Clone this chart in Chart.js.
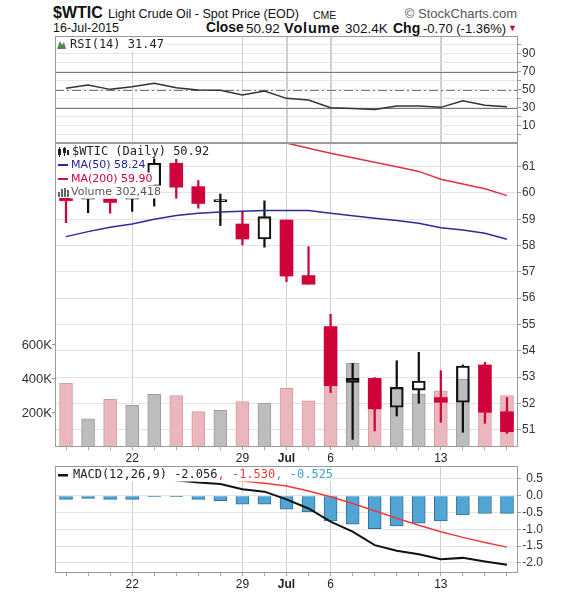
<!DOCTYPE html>
<html>
<head>
<meta charset="utf-8">
<script src="https://cdn.jsdelivr.net/npm/chart.js@4.4.1/dist/chart.umd.min.js"></script>
<style>
  body { margin: 0; background: #fff; width: 564px; height: 592px; overflow: hidden; position: relative;
         font-family: "Liberation Sans", Arial, sans-serif; }
  .t { position: absolute; white-space: nowrap; line-height: 1; color: #111; }
  .b { font-weight: bold; }
  canvas { position: absolute; left: 0; }
</style>
</head>
<body>
<div class="t b" style="left:53px;top:5px;font-size:16px">$WTIC</div>
<div class="t" style="left:108px;top:8px;font-size:12.5px">Light Crude Oil - Spot Price (EOD)</div>
<div class="t" style="left:313px;top:10px;font-size:10.5px">CME</div>
<div class="t" style="right:47px;top:7px;font-size:13px;color:#555">© StockCharts.com</div>
<div class="t" style="left:53px;top:22px;font-size:12.5px">16-Jul-2015</div>
<div class="t b" style="left:206px;top:21px;font-size:13.8px">Close</div>
<div class="t" style="left:246px;top:22px;font-size:13.5px">50.92</div>
<div class="t b" style="left:284px;top:21px;font-size:14.5px;letter-spacing:0.8px">Volume</div>
<div class="t" style="left:345px;top:22px;font-size:13.5px">302.4K</div>
<div class="t b" style="left:393px;top:21px;font-size:14px">Chg</div>
<div class="t" style="left:423px;top:22px;font-size:13px">-0.70 (-1.36%)</div>
<div class="t" style="left:508px;top:24px;font-size:9px;color:#cc0033">▼</div>

<canvas id="price" width="564" height="330" style="top:138px"></canvas>
<canvas id="macd" width="564" height="132" style="top:460px"></canvas>
<canvas id="rsi" width="564" height="113" style="top:30px"></canvas>

<script>
// ── Datos (17-jun a 16-jul-2015) ──
const DAYS = ['17','18','19','22','23','24','25','26','29','30','Jul','2','6','7','8','9','10','13','14','15','16'];
const TICK_DAYS = ['22','29','Jul','6','13'];

const OPEN  = [59.80, 59.76, 59.77, 59.76, 60.24, 61.13, 60.24, 59.67, 58.82, 58.25, 58.97, 56.86, 54.92, 52.80, 52.95, 51.85, 52.50, 52.22, 52.04, 53.46, 51.68];
const HIGH  = [59.80, 59.76, 59.77, 59.76, 61.32, 61.28, 60.47, 59.96, 59.29, 59.70, 58.97, 57.96, 55.39, 53.52, 52.98, 53.62, 53.94, 53.24, 53.46, 53.56, 52.22];
const LOW   = [58.87, 59.25, 59.23, 59.30, 59.50, 59.80, 59.42, 58.76, 58.02, 57.94, 56.63, 56.53, 52.41, 50.63, 50.95, 51.52, 52.00, 51.28, 50.90, 51.24, 50.86];
const CLOSE = [59.71, 59.76, 59.64, 59.76, 61.13, 60.22, 59.60, 59.67, 58.25, 59.10, 56.84, 56.53, 52.67, 52.95, 51.79, 52.61, 52.85, 52.04, 53.42, 51.66, 50.92];
const VOLUME = [375000, 165000, 281000, 245000, 310000, 302000, 208000, 216000, 267000, 259000, 345000,
                272000, 420000, 492000, 330000, 345000, 312000, 331000, 398000, 350000, 302418];
const MA50  = [58.34, 58.53, 58.70, 58.82, 59.00, 59.14, 59.23, 59.28, 59.30, 59.33, 59.33, 59.33, 59.23, 59.13, 59.04, 58.95, 58.85, 58.68, 58.59, 58.47, 58.24];
const MA200 = [null, null, null, null, null, null, null, null, null, null, 61.90, 61.70, 61.51, 61.34, 61.17, 61.00, 60.82, 60.52, 60.34, 60.16, 59.90];

const RSI = [51.9, 55.6, 50.7, 53.7, 57.4, 52.6, 50.0, 49.6, 44.4, 48.9, 40.7, 38.9, 30.4, 29.3, 28.2, 32.2, 32.2, 30.7, 38.1, 33.0, 31.47];

const MACD   = [0.50, 0.52, 0.49, 0.48, 0.53, 0.46, 0.39, 0.35, 0.19, 0.12, -0.11, -0.38, -0.77, -1.07, -1.47, -1.64, -1.74, -1.89, -1.85, -1.96, -2.056];
const SIGNAL = [0.61, 0.60, 0.60, 0.59, 0.56, 0.53, 0.50, 0.50, 0.44, 0.37, 0.29, 0.14, -0.03, -0.23, -0.45, -0.67, -0.88, -1.07, -1.24, -1.39, -1.530];
const HIST   = [-0.11, -0.08, -0.11, -0.11, -0.03, -0.03, -0.11, -0.15, -0.25, -0.25, -0.40, -0.48, -0.75, -0.85, -0.98, -0.90, -0.82, -0.75, -0.57, -0.53, -0.525];

const PRICE_TICKS = [51, 52, 53, 54, 55, 56, 57, 58, 59, 60, 61];
const VOL_TICKS = [200000, 400000, 600000];
const RSI_TICKS = [0, 10, 20, 30, 40, 50, 60, 70, 80, 90, 100];
const RSI_LABELS = [10, 30, 50, 70, 90];
const MACD_TICKS = [0.5, 0, -0.5, -1, -1.5, -2];

// rojo = cierre por debajo del cierre anterior
const DOWN = CLOSE.map((c, i) => i === 0 ? true : c < CLOSE[i - 1]);

const RED = '#d0023a';
const GRID_V = '#cfcfcf';
const FONT = '"Liberation Sans", Arial, sans-serif';
const MONO = '12px "DejaVu Sans Mono", monospace';
const SANS = '11px "DejaVu Sans", Verdana, sans-serif';

Chart.defaults.animation = false;
Chart.defaults.font.family = FONT;
Chart.defaults.font.size = 12;
Chart.defaults.color = '#333';
Chart.defaults.plugins.legend.display = false;
Chart.defaults.plugins.tooltip.enabled = false;

// ── helpers ──
const fitW = w => s => { s.width = w; s.paddingTop = 0; s.paddingBottom = 0; };
const fitH = h => s => { s.height = h; s.paddingLeft = 0; s.paddingRight = 0; };
const setTicks = arr => s => { s.ticks = arr.map(v => ({ value: v })); };

function xAxis(h, showLabels) {
  return {
    type: 'category',
    offset: true,
    afterFit: fitH(h),
    border: { display: false },
    grid: {
      offset: false,
      tickLength: 3,
      tickColor: showLabels ? '#aaa' : 'rgba(0,0,0,0)',
      color: ctx => TICK_DAYS.includes(DAYS[ctx.index]) ? GRID_V : 'rgba(0,0,0,0)'
    },
    ticks: {
      autoSkip: false,
      maxRotation: 0,
      padding: 1,
      color: '#222',
      font: ctx => ({ size: 12, weight: DAYS[ctx.index] === 'Jul' ? 'bold' : 'normal' }),
      callback: (v, i) => (showLabels && TICK_DAYS.includes(DAYS[i])) ? DAYS[i] : ''
    }
  };
}

const frame = {
  id: 'frame',
  afterDraw(chart) {
    const { ctx, chartArea: a } = chart;
    ctx.save();
    ctx.strokeStyle = '#9a9a9a';
    ctx.lineWidth = 1;
    ctx.strokeRect(a.left + 0.5, a.top + 0.5, a.right - a.left - 1, a.bottom - a.top - 1);
    ctx.restore();
  }
};

// texto con fondo blanco, partes de distinto color
function drawLabel(ctx, parts, x, y) {
  let w = 0;
  parts.forEach(p => { ctx.font = p.f; w += ctx.measureText(p.t).width; });
  ctx.fillStyle = '#fff';
  ctx.fillRect(x - 1, y - 6.5, w + 2, 13);
  let cx = x;
  ctx.textBaseline = 'middle';
  parts.forEach(p => {
    ctx.font = p.f;
    ctx.fillStyle = p.c;
    ctx.fillText(p.t, cx, y);
    cx += ctx.measureText(p.t).width;
  });
}

// ── RSI ──
new Chart(document.getElementById('rsi'), {
  type: 'bar',
  data: {
    labels: DAYS,
    datasets: [{ type: 'line', data: RSI, borderColor: '#333', borderWidth: 1.5, pointRadius: 0, tension: 0 }]
  },
  options: {
    responsive: false,
    layout: { padding: { left: 55, top: 6, right: 0, bottom: 0 } },
    scales: {
      x: xAxis(0, false),
      y: {
        position: 'right',
        min: -8.9, max: 110,
        afterBuildTicks: setTicks(RSI_TICKS),
        afterFit: fitW(46),
        border: { display: false },
        grid: { color: '#e6e6e6', tickLength: 3, tickColor: '#999' },
        ticks: { autoSkip: false, padding: 1, color: '#333', font: { size: 12 },
                 callback: v => RSI_LABELS.includes(v) ? String(v) : '' }
      }
    }
  },
  plugins: [frame, {
    id: 'rsiLines',
    beforeDatasetsDraw(chart) {
      const { ctx, chartArea: a, scales: { x, y } } = chart;
      ctx.save();
      ctx.strokeStyle = GRID_V;
      ctx.lineWidth = 1;
      TICK_DAYS.forEach(d => {
        const px = Math.round(x.getPixelForValue(DAYS.indexOf(d))) + 0.5;
        ctx.beginPath(); ctx.moveTo(px, a.top); ctx.lineTo(px, a.bottom); ctx.stroke();
      });
      ctx.strokeStyle = '#777';
      ctx.lineWidth = 1.2;
      [70, 30].forEach(v => {
        const py = Math.round(y.getPixelForValue(v)) + 0.5;
        ctx.beginPath(); ctx.moveTo(a.left, py); ctx.lineTo(a.right, py); ctx.stroke();
      });
      ctx.setLineDash([9, 3, 2, 3]);
      const py = Math.round(y.getPixelForValue(50)) + 0.5;
      ctx.beginPath(); ctx.moveTo(a.left, py); ctx.lineTo(a.right, py); ctx.stroke();
      ctx.restore();
    },
    afterDraw(chart) {
      const ctx = chart.ctx;
      ctx.save();
      ctx.fillStyle = '#fff';
      ctx.fillRect(56, 10, 10, 11);
      ctx.fillStyle = '#4b8b4b';
      ctx.beginPath();
      ctx.moveTo(57, 19); ctx.lineTo(60, 11); ctx.lineTo(62, 15); ctx.lineTo(64, 12); ctx.lineTo(66, 19);
      ctx.closePath(); ctx.fill();
      drawLabel(ctx, [{ t: 'RSI(14) 31.47', c: '#222', f: MONO }], 70, 15);
      ctx.restore();
    }
  }]
});

// ── Precio + volumen ──
new Chart(document.getElementById('price'), {
  type: 'bar',
  data: {
    labels: DAYS,
    datasets: [
      { type: 'line', data: MA50, yAxisID: 'y', borderColor: '#2b2b9b', borderWidth: 1.5, pointRadius: 0, order: 1 },
      { type: 'line', data: MA200, yAxisID: 'y', borderColor: '#e0304a', borderWidth: 1.5, pointRadius: 0, order: 2 },
      { // cuerpo
        data: OPEN.map((o, i) => [Math.min(o, CLOSE[i]), Math.max(o, CLOSE[i])]),
        yAxisID: 'y', grouped: false, barThickness: 13, minBarLength: 2, order: 3,
        backgroundColor: ctx => DOWN[ctx.dataIndex] ? RED : 'rgba(0,0,0,0)',
        borderColor: ctx => DOWN[ctx.dataIndex] ? RED : '#111',
        borderWidth: ctx => DOWN[ctx.dataIndex] ? 0 : 1.5,
        borderSkipped: false
      },
      { // mecha superior
        data: OPEN.map((o, i) => [Math.max(o, CLOSE[i]), HIGH[i]]),
        yAxisID: 'y', grouped: false, barThickness: 1.6, order: 4,
        backgroundColor: ctx => DOWN[ctx.dataIndex] ? RED : '#111'
      },
      { // mecha inferior
        data: OPEN.map((o, i) => [LOW[i], Math.min(o, CLOSE[i])]),
        yAxisID: 'y', grouped: false, barThickness: 1.6, order: 5,
        backgroundColor: ctx => DOWN[ctx.dataIndex] ? RED : '#111'
      },
      { // volumen
        data: VOLUME, yAxisID: 'vol', grouped: false, barThickness: 13, order: 6,
        backgroundColor: ctx => DOWN[ctx.dataIndex] ? '#ebb7bf' : '#bdbdbd',
        borderColor: ctx => DOWN[ctx.dataIndex] ? '#d99aa5' : '#9c9c9c',
        borderWidth: 1, borderSkipped: 'start'
      }
    ]
  },
  options: {
    responsive: false,
    layout: { padding: { left: 0, top: 5, right: 0, bottom: 0 } },
    scales: {
      x: xAxis(21, true),
      y: {
        position: 'right',
        min: 50.34, max: 61.9,
        afterBuildTicks: setTicks(PRICE_TICKS),
        afterFit: fitW(46),
        border: { display: false },
        grid: { color: '#e3e3e3', tickLength: 3, tickColor: '#999' },
        ticks: { autoSkip: false, padding: 1, color: '#333', font: { size: 12 } }
      },
      vol: {
        position: 'left',
        min: 0, max: 1788000,
        afterBuildTicks: setTicks(VOL_TICKS),
        afterFit: fitW(55),
        border: { display: false },
        grid: { drawOnChartArea: false, tickLength: 3, tickColor: '#999' },
        ticks: { autoSkip: false, padding: 0, color: '#333', font: { size: 13 }, callback: v => (v / 1000) + 'K' }
      }
    }
  },
  plugins: [frame, {
    id: 'priceLegend',
    afterDraw(chart) {
      const ctx = chart.ctx;
      ctx.save();
      // icono velas
      drawLabel(ctx, [{ t: '$WTIC (Daily) 50.92', c: '#222', f: MONO }], 72, 14);
      ctx.fillStyle = '#fff'; ctx.fillRect(57, 8, 14, 12);
      ctx.fillStyle = '#222';
      ctx.fillRect(58, 11, 3, 6); ctx.fillRect(59, 9, 1, 10);
      ctx.fillRect(63, 10, 3, 5); ctx.fillRect(64, 9, 1, 9);
      ctx.fillRect(67, 12, 2, 5);
      // MA50
      ctx.fillStyle = '#fff'; ctx.fillRect(57, 21, 13, 12);
      ctx.fillStyle = '#2b2b9b'; ctx.fillRect(58, 26, 10, 2);
      drawLabel(ctx, [{ t: 'MA(50) 58.24', c: '#1f1f8f', f: SANS }], 71, 27);
      // MA200
      ctx.fillStyle = '#fff'; ctx.fillRect(57, 35, 13, 12);
      ctx.fillStyle = '#d0103a'; ctx.fillRect(58, 40, 10, 2);
      drawLabel(ctx, [{ t: 'MA(200) 59.90', c: '#cc0033', f: SANS }], 71, 41);
      // volumen
      ctx.fillStyle = '#fff'; ctx.fillRect(57, 48, 13, 12);
      ctx.fillStyle = '#666';
      ctx.fillRect(58, 54, 2, 5); ctx.fillRect(61, 51, 2, 8); ctx.fillRect(64, 50, 2, 9); ctx.fillRect(67, 52, 2, 7);
      drawLabel(ctx, [{ t: 'Volume 302,418', c: '#555', f: SANS }], 71, 54);
      ctx.restore();
    }
  }]
});

// ── MACD ──
new Chart(document.getElementById('macd'), {
  type: 'bar',
  data: {
    labels: DAYS,
    datasets: [
      { type: 'line', data: MACD, borderColor: '#111', borderWidth: 2, pointRadius: 0, order: 1 },
      { type: 'line', data: SIGNAL, borderColor: '#f03a3a', borderWidth: 1.5, pointRadius: 0, order: 2 },
      { data: HIST, barThickness: 13, order: 3, backgroundColor: '#52a6d5', borderColor: '#2f6f96', borderWidth: 1 }
    ]
  },
  options: {
    responsive: false,
    layout: { padding: { left: 55, top: 6, right: 21, bottom: 0 } },
    scales: {
      x: xAxis(19, true),
      y: {
        position: 'right',
        min: -2.30, max: 0.884,
        afterBuildTicks: setTicks(MACD_TICKS),
        afterFit: fitW(25),
        border: { display: false },
        grid: { color: '#e3e3e3', tickLength: 3, tickColor: '#999' },
        ticks: { autoSkip: false, padding: 1, crossAlign: 'far', color: '#333', font: { size: 12 }, callback: v => v.toFixed(1) }
      }
    }
  },
  plugins: [frame, {
    id: 'macdLegend',
    afterDraw(chart) {
      const ctx = chart.ctx;
      ctx.save();
      ctx.fillStyle = '#fff'; ctx.fillRect(57, 9, 15, 12);
      ctx.fillStyle = '#111'; ctx.fillRect(58, 14, 10, 2.5);
      drawLabel(ctx, [
        { t: 'MACD(12,26,9) -2.056', c: '#222', f: MONO },
        { t: ', -1.530', c: '#f03a3a', f: MONO },
        { t: ', -0.525', c: '#3b9fd0', f: MONO }
      ], 73, 15);
      ctx.restore();
    }
  }]
});
</script>
</body>
</html>
